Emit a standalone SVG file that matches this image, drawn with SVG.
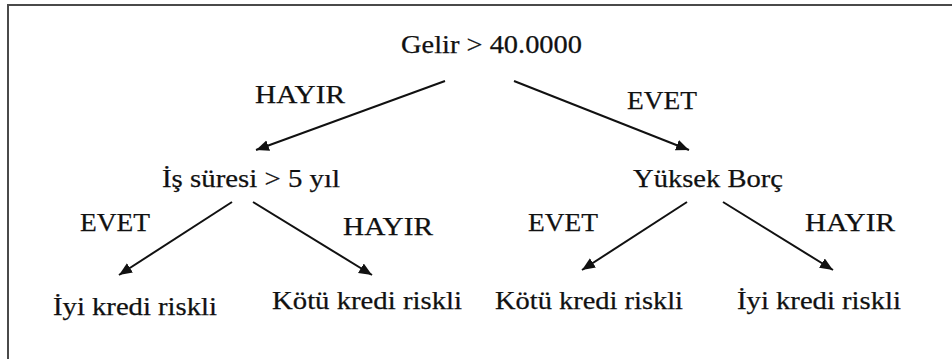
<svg xmlns="http://www.w3.org/2000/svg" width="952" height="359" viewBox="0 0 952 359">
  <style>
    .lbl { font-family: "Liberation Serif", "Times New Roman", serif; font-size: 26px; fill: #111; stroke: #111; stroke-width: 0.25; }
    .edge { stroke: #111; stroke-width: 2; fill: none; marker-end: url(#tip); }
    .frame { stroke: #4a4a4a; stroke-width: 2; fill: none; }
  </style>
  <defs>
    <marker id="tip" markerUnits="userSpaceOnUse" markerWidth="14" markerHeight="12" refX="13" refY="5.5" orient="auto">
      <path d="M0,0 L13,5.5 L0,11 z" fill="#111"/>
    </marker>
  </defs>

  <rect width="952" height="359" fill="#fff"/>
  <!-- page frame: only the left and top edges fall inside the view -->
  <path class="frame" d="M8,359 L8,5 L952,5"/>

  <g id="connectors">
    <line class="edge" x1="445" y1="81" x2="256" y2="150"/>
    <line class="edge" x1="514" y1="81" x2="689" y2="150"/>
    <line class="edge" x1="232" y1="202" x2="119" y2="275"/>
    <line class="edge" x1="253" y1="202" x2="372" y2="275"/>
    <line class="edge" x1="687" y1="202" x2="582" y2="270"/>
    <line class="edge" x1="723" y1="202" x2="833" y2="270"/>
    <text class="lbl" x="255" y="103" textLength="90" lengthAdjust="spacingAndGlyphs">HAYIR</text>
    <text class="lbl" x="627" y="109" textLength="70" lengthAdjust="spacingAndGlyphs">EVET</text>
    <text class="lbl" x="80" y="231" textLength="70" lengthAdjust="spacingAndGlyphs">EVET</text>
    <text class="lbl" x="343" y="235" textLength="90" lengthAdjust="spacingAndGlyphs">HAYIR</text>
    <text class="lbl" x="528" y="231" textLength="70" lengthAdjust="spacingAndGlyphs">EVET</text>
    <text class="lbl" x="805" y="231" textLength="90" lengthAdjust="spacingAndGlyphs">HAYIR</text>
  </g>

  <g id="root">
    <text class="lbl" x="401" y="53" textLength="181" lengthAdjust="spacingAndGlyphs">Gelir &gt; 40.0000</text>
  </g>
  <g id="tenure">
    <text class="lbl" x="162" y="187" textLength="178" lengthAdjust="spacingAndGlyphs">İş süresi &gt; 5 yıl</text>
  </g>
  <g id="debt">
    <text class="lbl" x="633" y="187" textLength="150" lengthAdjust="spacingAndGlyphs">Yüksek Borç</text>
  </g>
  <g id="leaf1">
    <text class="lbl" x="53" y="315" textLength="164" lengthAdjust="spacingAndGlyphs">İyi kredi riskli</text>
  </g>
  <g id="leaf2">
    <text class="lbl" x="272" y="309" textLength="190" lengthAdjust="spacingAndGlyphs">Kötü kredi riskli</text>
  </g>
  <g id="leaf3">
    <text class="lbl" x="495" y="309" textLength="188" lengthAdjust="spacingAndGlyphs">Kötü kredi riskli</text>
  </g>
  <g id="leaf4">
    <text class="lbl" x="737" y="309" textLength="164" lengthAdjust="spacingAndGlyphs">İyi kredi riskli</text>
  </g>
</svg>
